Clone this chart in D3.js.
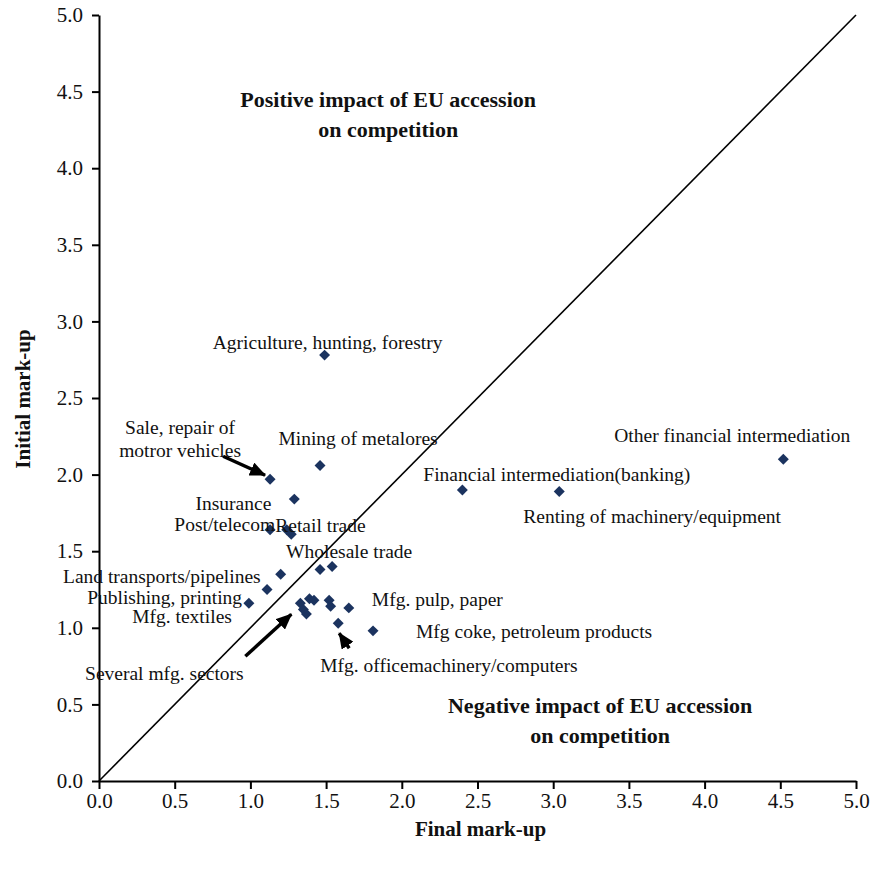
<!DOCTYPE html>
<html>
<head>
<meta charset="utf-8">
<script src="https://cdn.jsdelivr.net/npm/d3@7"></script>
<style>
  body { margin: 0; background: #fff; }
  text { font-family: "Liberation Serif", "Times New Roman", serif; fill: #111; }
</style>
</head>
<body>
<div class="chart"></div>
<script>
// sectors, final mark-up (x) and initial mark-up (y)
const sectors = [
  "Agriculture, hunting, forestry", "Mining of metalores", "Sale, repair of|motror vehicles",
  "Insurance", "Post/telecom", "", "Retail trade", "", "Wholesale trade",
  "Land transports/pipelines", "Publishing, printing", "Mfg. textiles",
  "Several mfg. sectors", "", "", "", "", "", "",
  "Mfg. pulp, paper", "Mfg. officemachinery/computers", "Mfg coke, petroleum products",
  "Financial intermediation(banking)", "Renting of machinery/equipment", "Other financial intermediation"
];
const finalMarkup = [
  1.49, 1.46, 1.13,
  1.29, 1.13, 1.24, 1.27, 1.46, 1.54,
  1.20, 1.11, 0.99,
  1.33, 1.35, 1.37, 1.39, 1.42, 1.52, 1.53,
  1.65, 1.58, 1.81,
  2.40, 3.04, 4.52
];
const initialMarkup = [
  2.78, 2.06, 1.97,
  1.84, 1.64, 1.64, 1.61, 1.38, 1.40,
  1.35, 1.25, 1.16,
  1.16, 1.12, 1.09, 1.19, 1.18, 1.18, 1.14,
  1.13, 1.03, 0.98,
  1.90, 1.89, 2.10
];
const xTicks = [0, 0.5, 1, 1.5, 2, 2.5, 3, 3.5, 4, 4.5, 5];
const yTicks = [0, 0.5, 1, 1.5, 2, 2.5, 3, 3.5, 4, 4.5, 5];

// label placement, pixel offsets from the point
const labelLayout = {
  "Agriculture, hunting, forestry": { dx: 3, dy: -6, anchor: "middle" },
  "Mining of metalores": { dx: 38, dy: -20, anchor: "middle" },
  "Sale, repair of|motror vehicles": { dx: -90, dy: -45, anchor: "middle", arrow: [-47, -23, -5, -4] },
  "Insurance": { dx: -23, dy: 11, anchor: "end" },
  "Post/telecom": { dx: 5, dy: 1, anchor: "end" },
  "Retail trade": { dx: -16, dy: -2, anchor: "start" },
  "Wholesale trade": { dx: 17, dy: -9, anchor: "middle" },
  "Land transports/pipelines": { dx: -20, dy: 9, anchor: "end" },
  "Publishing, printing": { dx: -25, dy: 14, anchor: "end" },
  "Mfg. textiles": { dx: -17, dy: 20, anchor: "end" },
  "Several mfg. sectors": { dx: -136, dy: 77, anchor: "middle", arrow: [-55, 53, -9, 11] },
  "Mfg. pulp, paper": { dx: 23, dy: -2, anchor: "start" },
  "Mfg. officemachinery/computers": { dx: -18, dy: 49, anchor: "start", arrow: [11, 25, 1, 10] },
  "Mfg coke, petroleum products": { dx: 43, dy: 7, anchor: "start" },
  "Financial intermediation(banking)": { dx: -39, dy: -9, anchor: "start" },
  "Renting of machinery/equipment": { dx: -36, dy: 32, anchor: "start" },
  "Other financial intermediation": { dx: -51, dy: -17, anchor: "middle" }
};

const W = 880, H = 870;
const margin = { top: 15, right: 24, bottom: 89, left: 99 };
const width = W - margin.left - margin.right,
  height = H - margin.top - margin.bottom;

const svg = d3.select(".chart")
  .append("svg")
  .attr("width", W)
  .attr("height", H);

svg.append("defs")
  .append("marker")
  .attr("id", "head")
  .attr("markerUnits", "userSpaceOnUse")
  .attr("viewBox", "0 0 16 14")
  .attr("refX", 15)
  .attr("refY", 7)
  .attr("markerWidth", 16)
  .attr("markerHeight", 14)
  .attr("orient", "auto")
  .append("path")
  .attr("d", "M0,0 L16,7 L0,14 Z")
  .attr("fill", "#000");

const g = svg.append("g")
  .attr("transform", `translate(${margin.left},${margin.top})`);

const x = d3.scaleLinear().domain([0, 5]).range([0, width]);
const y = d3.scaleLinear().domain([0, 5]).range([height, 0]);

// diagonal
g.append("line")
  .attr("x1", x(0)).attr("y1", y(0))
  .attr("x2", x(5)).attr("y2", y(5))
  .attr("stroke", "#000")
  .attr("stroke-width", 1.6);

const xAxis = g.append("g")
  .attr("transform", `translate(0,${height})`)
  .call(d3.axisBottom(x).tickValues(xTicks).tickFormat(d3.format(".1f")).tickSize(8).tickPadding(4).tickSizeOuter(0));
const yAxis = g.append("g")
  .call(d3.axisLeft(y).tickValues(yTicks).tickFormat(d3.format(".1f")).tickSize(7).tickPadding(9).tickSizeOuter(0));

[xAxis, yAxis].forEach(a => {
  a.select(".domain").attr("stroke", "#000").attr("stroke-width", 2);
  a.selectAll(".tick line").attr("stroke", "#000").attr("stroke-width", 2);
  a.selectAll(".tick text")
    .style("font-family", "'Liberation Serif', serif")
    .style("font-size", "21px")
    .attr("fill", "#111");
});

// points
const pts = sectors.map((s, i) => ({ name: s, fx: finalMarkup[i], ix: initialMarkup[i] }));

g.selectAll(".pt")
  .data(pts)
  .join("path")
  .attr("class", "pt")
  .attr("d", d3.symbol(d3.symbolSquare, 60))
  .attr("transform", d => `translate(${x(d.fx)},${y(d.ix)}) rotate(45)`)
  .attr("fill", "#1b335f");

// labels
const labelled = pts.filter(d => d.name && labelLayout[d.name]);

labelled.forEach(d => {
  const L = labelLayout[d.name];
  const px = x(d.fx), py = y(d.ix);
  const t = g.append("text")
    .attr("x", px + L.dx)
    .attr("y", py + L.dy)
    .attr("text-anchor", L.anchor)
    .style("font-size", "19.5px");
  d.name.split("|").forEach((line, k) => {
    t.append("tspan")
      .attr("x", px + L.dx)
      .attr("dy", k === 0 ? 0 : 23)
      .text(line);
  });
  if (L.arrow) {
    g.append("line")
      .attr("x1", px + L.arrow[0]).attr("y1", py + L.arrow[1])
      .attr("x2", px + L.arrow[2]).attr("y2", py + L.arrow[3])
      .attr("stroke", "#000")
      .attr("stroke-width", 3.4)
      .attr("marker-end", "url(#head)");
  }
});

// region notes
const notes = [
  { lines: ["Positive impact of EU accession", "on competition"], fx: 1.91, ix: 4.40 },
  { lines: ["Negative impact of EU accession", "on competition"], fx: 3.31, ix: 0.445 }
];
notes.forEach(n => {
  const t = g.append("text")
    .attr("text-anchor", "middle")
    .style("font-size", "22px")
    .style("font-weight", "bold");
  n.lines.forEach((line, k) => {
    t.append("tspan")
      .attr("x", x(n.fx))
      .attr("y", y(n.ix) + k * 30)
      .text(line);
  });
});

// axis titles
svg.append("text")
  .attr("x", margin.left + x(2.52))
  .attr("y", 836)
  .attr("text-anchor", "middle")
  .style("font-size", "21px")
  .style("font-weight", "bold")
  .text("Final mark-up");

svg.append("text")
  .attr("transform", "translate(30,399) rotate(-90)")
  .attr("text-anchor", "middle")
  .style("font-size", "21px")
  .style("font-weight", "bold")
  .text("Initial mark-up");
</script>
</body>
</html>
